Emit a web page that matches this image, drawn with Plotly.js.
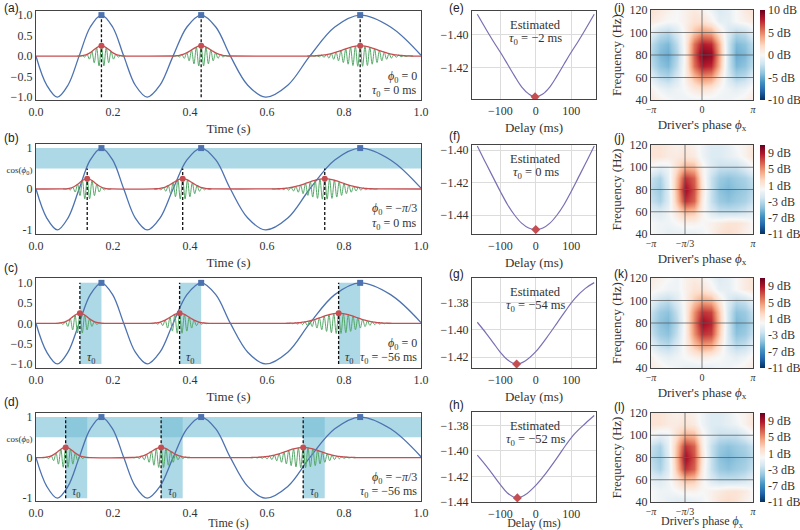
<!DOCTYPE html>
<html><head><meta charset="utf-8">
<script src="https://cdn.plot.ly/plotly-3.0.1.min.js"></script>
<style>body{margin:0;background:#fff}#chart{width:800px;height:530px}</style>
</head><body><div id="chart"></div>
<script>
// ---------------- data ----------------
// driver signal: key points (zeros, extremes, eighth-period points)
const driverT = [0, 0.028, 0.0554, 0.083, 0.112, 0.141, 0.170, 0.199, 0.228, 0.258, 0.289, 0.322, 0.356, 0.392, 0.429, 0.467, 0.505, 0.550, 0.596, 0.654, 0.711, 0.776, 0.842, 0.921, 1.0];
const driverY = [0, -0.71, -1, -0.71, 0, 0.71, 1, 0.71, 0, -0.71, -1, -0.71, 0, 0.71, 1, 0.71, 0, -0.71, -1, -0.71, 0, 0.71, 1, 0.71, 0.02];
const driverPeakT = [0.170, 0.429, 0.842];
const cosPhi0 = 0.5;
const carrierHz = 80;
// oscillation extremes of each gamma burst (signed), one per half carrier period
const burst1 = [0.002,-0.005,0.011,-0.023,0.043,-0.074,0.115,-0.161,0.206,-0.238,0.25,-0.238,0.206,-0.161,0.115,-0.074,0.043,-0.023,0.011,-0.005,0.002];
const burst2 = [0.003,-0.006,0.011,-0.020,0.034,-0.054,0.081,-0.115,0.152,-0.189,0.221,-0.242,0.25,-0.242,0.221,-0.189,0.152,-0.115,0.081,-0.054,0.034,-0.020,0.011,-0.006,0.003];
const burst3 = [0.002,-0.004,0.005,-0.008,0.011,-0.016,0.021,-0.029,0.038,-0.049,0.062,-0.078,0.095,-0.115,0.135,-0.156,0.177,-0.197,0.214,-0.229,0.241,-0.248,0.25,-0.248,0.241,-0.229,0.214,-0.197,0.177,-0.156,0.135,-0.115,0.095,-0.078,0.062,-0.049,0.038,-0.029,0.021,-0.016,0.011,-0.008,0.005,-0.004,0.002];
const centersA = [0.170, 0.429, 0.842];
const centersB = [0.133, 0.381, 0.750];
const centersC = [0.114, 0.373, 0.786];
const centersD = [0.077, 0.325, 0.694];
const phi0Text = ['0', '−<i>π</i>/3', '0', '−<i>π</i>/3'];
const tau0Text = ['0', '0', '−56', '−56'];

// cost vs delay
const delayE = [-165,-140,-120,-100,-80,-60,-40,-20,-2,20,40,60,80,100,120,140,165];
const costE  = [-1.3875,-1.3967,-1.4038,-1.4105,-1.4176,-1.4248,-1.4314,-1.4357,-1.4375,-1.4357,-1.4314,-1.4248,-1.4176,-1.4105,-1.4038,-1.3967,-1.3875];
const delayF = [-165,-140,-120,-100,-80,-60,-40,-20,0,20,40,60,80,100,120,140,165];
const costF  = [-1.3975,-1.4085,-1.4170,-1.4255,-1.4335,-1.4400,-1.4450,-1.4480,-1.4490,-1.4480,-1.4450,-1.4400,-1.4335,-1.4255,-1.4170,-1.4085,-1.3975];
const delayG = [-165,-140,-120,-100,-80,-54,-30,0,30,60,84,110,140,165];
const costG  = [-1.3944,-1.4025,-1.4095,-1.4165,-1.4220,-1.4251,-1.4228,-1.4160,-1.4060,-1.3950,-1.3860,-1.3770,-1.3695,-1.3653];
const delayH = [-165,-140,-120,-100,-80,-52,-30,0,30,60,86,110,140,165];
const costH  = [-1.4034,-1.4118,-1.4190,-1.4265,-1.4330,-1.4369,-1.4345,-1.4270,-1.4170,-1.4055,-1.3950,-1.3865,-1.3785,-1.3723];
const estTau = ['−2', '0', '−54', '−52'];

// phase-frequency maps (dB); rows = frequency, cols = phase
const phaseGrid = [-3.1416,-2.618,-2.0944,-1.5708,-1.0472,-0.5236,0,0.5236,1.0472,1.5708,2.0944,2.618,3.1416];
const freqGrid = [40,50,60,70,80,90,100,110,120];
const mapI = [
 [1,0.5,0,-0.5,-0.5,-0.5,-0.5,-0.5,-0.5,-0.5,0,0.5,1],
 [0.5,-0.5,-1,-0.5,0,1,1.5,1,0,-0.5,-1,-0.5,0.5],
 [-1,-2.5,-3,-1.5,0.5,3,4.5,4,1.5,-1.5,-3,-2.5,-1],
 [-2.5,-4,-4.5,-2.5,0.5,5.5,8,7.5,3.5,-2,-4.5,-4,-2.5],
 [-3,-4.5,-5,-3,0.5,6,9.5,9,4,-2,-5,-4.5,-3],
 [-2.5,-4,-4.5,-2.5,0.5,5.5,8,7.5,3.5,-2,-4.5,-4,-2.5],
 [-1,-2.5,-3,-1.5,0.5,3,4.5,4,1.5,-1.5,-3,-2.5,-1],
 [1,0.5,0,0,0.5,1.5,1.5,0.5,-1,-1,0,0.5,1],
 [1.5,1,0.5,0,0.5,1,0.5,-0.5,-1.5,-1,0,1,1.5]];
const mapJ = [
 [0,-0.5,-1,-1,-1,-1,-0.5,0.5,1.5,2,1.5,0.5,0],
 [0,-0.5,-0.5,0,0.5,0.5,0,0.5,1,1.5,1.5,1,0],
 [-1,-1.5,-0.5,1.5,3.5,3,0.5,-1.5,-2.5,-2.5,-2.5,-2,-1],
 [-2.5,-3.5,-1.5,3.5,8,6.5,1,-2.5,-4,-4.5,-4,-3.5,-2.5],
 [-3,-4,-1.5,4,9.5,7,1.5,-2.5,-4.5,-5,-4.5,-4,-3],
 [-2.5,-3.5,-1,3.5,8,6.5,1,-2.5,-4,-4.5,-4,-3.5,-2.5],
 [0,-1,-0.5,2,4,3.5,0.5,-1.5,-2.5,-2.5,-2.5,-1.5,0],
 [1.5,1.5,1,1,1.5,1,-0.5,-1.5,-1.5,-1,-0.5,0.5,1.5],
 [1.5,1.5,1,0.5,1,0.5,-0.5,-1.5,-1.5,-1,0,0.5,1.5]];
const mapK = [
 [1,0.5,0,-0.5,-1,-1,-1,-1,-0.5,-0.5,0,0.5,1],
 [0.5,-0.5,-1,-0.5,0,0.5,1,0.5,0,-0.5,-1,-0.5,0.5],
 [-1,-2.5,-3,-1.5,0.5,3,4.5,4,1.5,-1.5,-3,-2.5,-1],
 [-2.5,-4,-4.5,-2.5,0.5,5,8,7.5,3,-2,-4.5,-4,-2.5],
 [-3,-4.5,-5,-3,0.5,5.5,9.5,8.5,3.5,-2,-5,-4.5,-3],
 [-2.5,-4,-4.5,-2.5,0.5,5,8,7.5,3,-2,-4.5,-4,-2.5],
 [-1,-2.5,-3,-1.5,0.5,3,4.5,4,1.5,-1.5,-3,-2.5,-1],
 [0.5,0,-0.5,-0.5,0.5,1.5,1.5,0.5,-1,-1,0,1,1.5],
 [1,0.5,0,-0.5,0.5,1,0.5,-0.5,-1.5,-1,0,1,1.5]];
const mapL = [
 [0,-0.5,-1,-1.5,-1.5,-1,-0.5,0.5,1.5,2,1.5,0.5,0],
 [0,-0.5,-0.5,0,0.5,0.5,0,0.5,1,1.5,1.5,1,0],
 [-1,-1.5,-0.5,1.5,3.5,3,0.5,-1.5,-2.5,-2.5,-2.5,-2,-1],
 [-2.5,-3.5,-1.5,3.5,8,6.5,1,-2.5,-4,-4.5,-4,-3.5,-2.5],
 [-3,-4,-1.5,4,9.5,7,1.5,-2.5,-4.5,-5,-4.5,-4,-3],
 [-2.5,-3.5,-1,3.5,8,6.5,1,-2.5,-4,-4.5,-4,-3.5,-2.5],
 [0,-1,-0.5,2,4,3.5,0.5,-1.5,-2.5,-2.5,-2.5,-1.5,0],
 [1.5,1.5,1,1,1.5,1,-0.5,-1.5,-1.5,-1,-0.5,0.5,1.5],
 [1.5,1.5,1,0.5,1,0.5,-0.5,-1.5,-1.5,-1,0,0.5,1.5]];
const mapLimits = [10, 11, 11, 11];
const cbTicksI = [10,5,0,-5,-10];
const cbTicksJ = [9,5,1,-3,-7,-11];
const phaseMarker = [0, -1.0472, 0, -1.0472];

// ---------------- styling / layout ----------------
const serif = 'Liberation Serif';
const sans = 'Liberation Sans';
const BLUE='#4c72b0', GREEN='#55a868', RED='#c44e52', PURPLE='#7a6fb3';
const SHADE='rgba(118,190,213,0.6)';
const TXT='#333';
const H=530;
const pyDom = (top,bot)=>[1-bot/H, 1-top/H];

const data=[];
const layout={width:800,height:530,margin:{l:0,r:0,t:0,b:0},paper_bgcolor:'#fff',plot_bgcolor:'#fff',
  showlegend:false,font:{family:serif,size:12,color:TXT},shapes:[],annotations:[]};
const ax = n => n===1?'':String(n);
const titleFont = p => ({family:serif,size:p===3?12:13,color:TXT});
const titleStand = p => (p===3?7:6);

// ---- left column ----
const leftX=[36/800, 421/800];
const leftPx=[[11,100],[144,234],[278,368],[413,501]];
const leftRange=[[-1.07,1.1],[-1.1,1.1],[-1.1,1.12],[-1.07,1.1]];
const allCenters=[centersA,centersB,centersC,centersD];
const bursts=[burst1,burst2,burst3];
const leftLabels=['(a)','(b)','(c)','(d)'];
const leftLabelY=[8,138,268,402];

for(let p=0;p<4;p++){
  const n=p+1, xa='x'+ax(n), ya='y'+ax(n);
  const centers=allCenters[p];
  const band=(p===1||p===3);
  layout['xaxis'+ax(n)]={domain:leftX,anchor:ya,range:[0,1],showgrid:false,zeroline:false,showline:true,mirror:true,
    linecolor:'#444',linewidth:1.2,ticks:'',dtick:0.2,tick0:0,tickformat:'.1f',tickfont:{family:serif,size:12,color:TXT},
    title:{text:'Time (s)',font:titleFont(p),standoff:titleStand(p)}};
  const yax={domain:pyDom(leftPx[p][0],leftPx[p][1]),anchor:xa,range:leftRange[p],showgrid:false,zeroline:false,showline:true,mirror:true,
    linecolor:'#444',linewidth:1.2,ticks:'',tickfont:{family:serif,size:12,color:TXT}};
  if(band){yax.tickvals=[-1,0,cosPhi0,1];yax.ticktext=['-1','0','<span style="font-size:9px">cos(<i>ϕ</i><sub>0</sub>)</span>','1'];}
  else {yax.tickvals=[-1,-0.5,0,0.5,1];yax.tickformat='.1f';}
  layout['yaxis'+ax(n)]=yax;

  if(band) layout.shapes.push({type:'rect',xref:xa,yref:ya,x0:0,x1:1,y0:cosPhi0,y1:1,fillcolor:SHADE,line:{width:0},layer:'below'});
  if(p===2||p===3){
    const ends = p===2 ? driverPeakT : centersB;
    centers.forEach((c,i)=>{
      layout.shapes.push({type:'rect',xref:xa,yref:ya,x0:c,x1:ends[i],y0:-1,y1:1,fillcolor:SHADE,line:{width:0},layer:'below'});
      layout.annotations.push({xref:xa,yref:ya,x:(c+ends[i])/2,y:-0.86,text:'<i>τ</i><sub>0</sub>',showarrow:false,
        font:{family:serif,size:12,color:TXT},xanchor:'center',yanchor:'middle'});
    });
  }
  data.push({x:driverT,y:driverY,mode:'lines',line:{color:BLUE,width:1.3,shape:'spline'},xaxis:xa,yaxis:ya,hoverinfo:'skip'});
  const gx=[],gy=[],rx=[0],ry=[0];
  centers.forEach((c,b)=>{
    const arr=bursts[b], m=(arr.length-1)/2;
    arr.forEach((v,i)=>{const t=c+(i-m)/(2*carrierHz); gx.push(t); gy.push(v); rx.push(t); ry.push(Math.abs(v));});
    gx.push(null); gy.push(null);
  });
  rx.push(1); ry.push(0);
  data.push({x:gx,y:gy,mode:'lines',line:{color:GREEN,width:1,shape:'spline'},xaxis:xa,yaxis:ya,hoverinfo:'skip',connectgaps:false});
  data.push({x:rx,y:ry,mode:'lines',line:{color:RED,width:1.3,shape:'spline'},xaxis:xa,yaxis:ya,hoverinfo:'skip'});
  const top = p===1 ? cosPhi0 : 1;
  const dx=[],dy=[];
  centers.forEach(c=>{dx.push(c,c,null);dy.push(-1,top,null);});
  data.push({x:dx,y:dy,mode:'lines',line:{color:'#111',width:1.3,dash:'3px,2px'},xaxis:xa,yaxis:ya,hoverinfo:'skip'});
  data.push({x:driverPeakT,y:driverPeakT.map(()=>1),mode:'markers',marker:{symbol:'square',size:6,color:BLUE},xaxis:xa,yaxis:ya,hoverinfo:'skip'});
  data.push({x:centers,y:centers.map((c,b)=>Math.abs(bursts[b][(bursts[b].length-1)/2])),mode:'markers',marker:{symbol:'circle',size:6,color:RED},xaxis:xa,yaxis:ya,hoverinfo:'skip'});
  layout.annotations.push({xref:xa,yref:ya,x:0.995,y:-0.5,text:'<i>ϕ</i><sub>0</sub> = '+phi0Text[p],showarrow:false,xanchor:'right',yanchor:'middle',font:{family:serif,size:12,color:TXT}});
  layout.annotations.push({xref:xa,yref:ya,x:0.995,y:-0.85,text:'<i>τ</i><sub>0</sub> = '+tau0Text[p]+' ms',showarrow:false,xanchor:'right',yanchor:'middle',font:{family:serif,size:12,color:TXT}});
  layout.annotations.push({xref:'paper',yref:'paper',x:2/800,y:1-leftLabelY[p]/H,text:leftLabels[p],showarrow:false,xanchor:'left',yanchor:'middle',font:{family:sans,size:12,color:'#222'}});
}

// ---- middle column ----
const midX=[472/800, 596/800];
const midPx=[[11,99],[145,234],[278,368],[412,502]];
const midRange=[[-1.4388,-1.3855],[-1.4517,-1.3969],[-1.428,-1.3619],[-1.4401,-1.3695]];
const delays=[delayE,delayF,delayG,delayH], costs=[costE,costF,costG,costH];
const midLabels=['(e)','(f)','(g)','(h)'];
const midLabelY=[8,136,274,405];
for(let p=0;p<4;p++){
  const n=p+5, xa='x'+ax(n), ya='y'+ax(n);
  layout['xaxis'+ax(n)]={domain:midX,anchor:ya,range:[-180,170],tickvals:[-100,0,100],showgrid:true,gridcolor:'#dcdcdc',gridwidth:1,
    zeroline:false,showline:true,mirror:true,linecolor:'#444',linewidth:1.2,ticks:'',tickfont:{family:serif,size:12,color:TXT},
    title:{text:'Delay (ms)',font:titleFont(p),standoff:titleStand(p)}};
  layout['yaxis'+ax(n)]={domain:pyDom(midPx[p][0],midPx[p][1]),anchor:xa,range:midRange[p],tickvals:[-1.44,-1.42,-1.40,-1.38],tickformat:'.2f',
    showgrid:true,gridcolor:'#dcdcdc',gridwidth:1,zeroline:false,showline:true,mirror:true,linecolor:'#444',linewidth:1.2,ticks:'',
    tickfont:{family:serif,size:12,color:TXT}};
  data.push({x:delays[p],y:costs[p],mode:'lines',line:{color:PURPLE,width:1.2,shape:'spline'},xaxis:xa,yaxis:ya,hoverinfo:'skip'});
  const c=costs[p], mi=c.indexOf(Math.min(...c));
  data.push({x:[delays[p][mi]],y:[c[mi]],mode:'markers',marker:{symbol:'diamond',size:7,color:RED},xaxis:xa,yaxis:ya,hoverinfo:'skip'});
  const topP=1-midPx[p][0]/H;
  layout.annotations.push({xref:xa,yref:'paper',x:0,y:topP-14/H,text:'Estimated',showarrow:false,xanchor:'center',yanchor:'middle',font:{family:serif,size:12.5,color:TXT}});
  layout.annotations.push({xref:xa,yref:'paper',x:0,y:topP-27.5/H,text:'<i>τ</i><sub>0</sub> = '+estTau[p]+' ms',showarrow:false,xanchor:'center',yanchor:'middle',font:{family:serif,size:12.5,color:TXT}});
  layout.annotations.push({xref:'paper',yref:'paper',x:447/800,y:1-midLabelY[p]/H,text:midLabels[p],showarrow:false,xanchor:'left',yanchor:'middle',font:{family:sans,size:12,color:'#222'}});
}

// ---- right column ----
const rdbu=[[0,'#053061'],[0.1,'#2166ac'],[0.2,'#4393c3'],[0.3,'#92c5de'],[0.4,'#d1e5f0'],[0.5,'#f7f7f7'],
  [0.6,'#fddbc7'],[0.7,'#f4a582'],[0.8,'#d6604d'],[0.9,'#b2182b'],[1,'#67001f']];
const rightX=[651/800, 753/800];
const rightPx=[[10,100],[145,234],[278,368],[413,502]];
const maps=[mapI,mapJ,mapK,mapL];
const rightLabels=['(i)','(j)','(k)','(l)'];
const rightLabelY=[8,138,274,407];
for(let p=0;p<4;p++){
  const n=p+9, xa='x'+ax(n), ya='y'+ax(n);
  const dom=pyDom(rightPx[p][0],rightPx[p][1]);
  const pm=phaseMarker[p];
  const xt = pm===0 ? {v:[-Math.PI,0,Math.PI],t:['−<i>π</i>','0','<i>π</i>']} : {v:[-Math.PI,pm,Math.PI],t:['−<i>π</i>','−<i>π</i>/3','<i>π</i>']};
  layout['xaxis'+ax(n)]={domain:rightX,anchor:ya,range:[-Math.PI,Math.PI],tickvals:xt.v,ticktext:xt.t,showgrid:false,zeroline:false,
    showline:true,mirror:true,linecolor:'#444',linewidth:1.2,ticks:'',tickfont:{family:serif,size:10,color:TXT},
    title:{text:"Driver's phase <i>ϕ</i><sub>x</sub>",font:titleFont(p),standoff:p===3?6:5}};
  layout['yaxis'+ax(n)]={domain:dom,anchor:xa,range:[40,120],tickvals:[40,60,80,100,120],showgrid:false,zeroline:false,
    showline:true,mirror:true,linecolor:'#444',linewidth:1.2,ticks:'',tickfont:{family:serif,size:12,color:TXT},
    title:{text:'Frequency (Hz)',font:{family:serif,size:13,color:TXT},standoff:4}};
  const lim=mapLimits[p], tv = p===0?cbTicksI:cbTicksJ;
  data.push({type:'heatmap',x:phaseGrid,y:freqGrid,z:maps[p],zsmooth:'best',colorscale:rdbu,zmin:-lim,zmax:lim,xaxis:xa,yaxis:ya,hoverinfo:'skip',
    colorbar:{x:760/800,xanchor:'left',xref:'paper',y:(dom[0]+dom[1])/2,yanchor:'middle',yref:'paper',len:dom[1]-dom[0],lenmode:'fraction',
      thickness:5,outlinewidth:0,xpad:0,ypad:0,tickvals:tv,ticktext:tv.map(v=>String(v)+' dB'),ticks:'',
      tickfont:{family:serif,size:12,color:TXT}}});
  const gl={color:'rgba(90,90,90,0.75)',width:1};
  layout.shapes.push({type:'line',xref:xa,yref:ya,x0:pm,x1:pm,y0:40,y1:120,line:gl,layer:'above'});
  [60,80,100].forEach(f=>layout.shapes.push({type:'line',xref:xa,yref:ya,x0:-Math.PI,x1:Math.PI,y0:f,y1:f,line:gl,layer:'above'}));
  layout.annotations.push({xref:'paper',yref:'paper',x:612/800,y:1-rightLabelY[p]/H,text:rightLabels[p],showarrow:false,xanchor:'left',yanchor:'middle',font:{family:sans,size:12,color:'#222'}});
}

Plotly.newPlot('chart',data,layout,{staticPlot:true,displayModeBar:false});
</script></body></html>
